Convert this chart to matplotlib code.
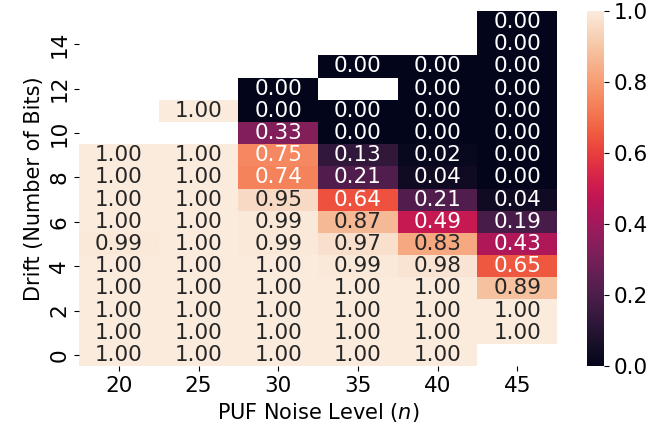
import numpy as np
import pandas as pd
import matplotlib
matplotlib.use("Agg")
import matplotlib.pyplot as plt
import seaborn as sns

noise_levels = [20, 25, 30, 35, 40, 45]
drift_bits = list(range(16))

nan = np.nan
# 每列一个噪声等级，行 = drift 0..15
col_20 = [1.00, 1.00, 1.00, 1.00, 1.00, 0.99, 1.00, 1.00, 1.00, 1.00, nan, nan, nan, nan, nan, nan]
col_25 = [1.00, 1.00, 1.00, 1.00, 1.00, 1.00, 1.00, 1.00, 1.00, 1.00, nan, 1.00, nan, nan, nan, nan]
col_30 = [1.00, 1.00, 1.00, 1.00, 1.00, 0.99, 0.99, 0.95, 0.74, 0.75, 0.33, 0.00, 0.00, nan, nan, nan]
col_35 = [1.00, 1.00, 1.00, 1.00, 0.99, 0.97, 0.87, 0.64, 0.21, 0.13, 0.00, 0.00, nan, 0.00, nan, nan]
col_40 = [1.00, 1.00, 1.00, 1.00, 0.98, 0.83, 0.49, 0.21, 0.04, 0.02, 0.00, 0.00, 0.00, 0.00, nan, nan]
col_45 = [nan, 1.00, 1.00, 0.89, 0.65, 0.43, 0.19, 0.04, 0.00, 0.00, 0.00, 0.00, 0.00, 0.00, 0.00, 0.00]

df = pd.DataFrame(dict(zip(noise_levels, [col_20, col_25, col_30, col_35, col_40, col_45])),
                  index=drift_bits)

FS = 15.5

fig = plt.figure(figsize=(6.72, 4.32), dpi=100)
ax = fig.add_axes([0.1176, 0.1528, 0.7113, 0.8217])
cax = fig.add_axes([0.8735, 0.1528, 0.0253, 0.8217])

sns.heatmap(df, ax=ax, cbar_ax=cax, cmap="rocket", vmin=0, vmax=1,
            annot=True, fmt=".2f", annot_kws={"fontsize": FS},
            yticklabels=2)
ax.invert_yaxis()

ax.set_xlabel("PUF Noise Level ($n$)", fontsize=15)
ax.set_ylabel("Drift (Number of Bits)", fontsize=15)
ax.tick_params(axis="both", labelsize=FS)
ax.set_yticklabels(ax.get_yticklabels(), rotation=90, va="center")
ax.set_xticklabels(ax.get_xticklabels(), rotation=0)
cax.tick_params(labelsize=FS)

fig.savefig("out.png", dpi=100)
